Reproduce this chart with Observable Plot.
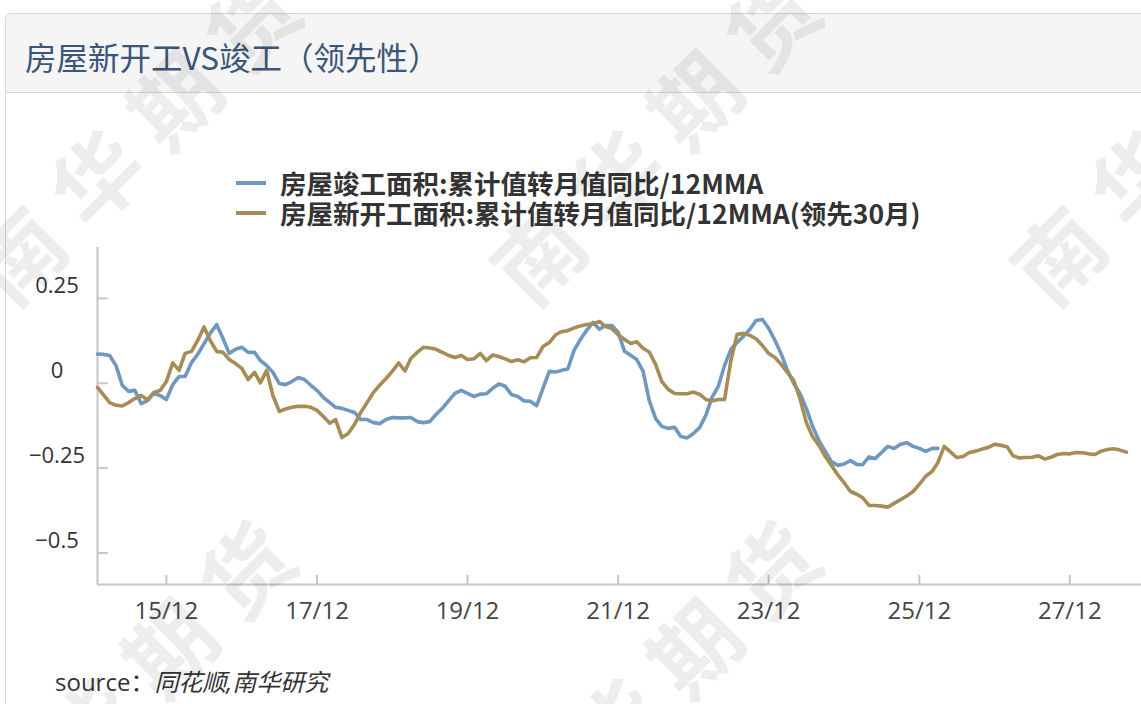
<!DOCTYPE html>
<html><head><meta charset="utf-8">
<script src="https://cdn.jsdelivr.net/npm/d3@7"></script>
<script src="https://cdn.jsdelivr.net/npm/@observablehq/plot@0.6"></script>
<style>
html,body{margin:0;padding:0;background:#fff;width:1141px;height:704px;overflow:hidden;font-family:"Open Sans","Noto Sans CJK SC",sans-serif;}
#card{position:absolute;left:5px;top:13px;width:1170px;height:740px;border:1px solid #d6d6d6;border-radius:6px;box-sizing:border-box;}
#titlebar{position:absolute;left:0;top:0;right:0;height:78px;background:#f5f5f5;border-bottom:1px solid #d9d9d9;border-radius:6px 6px 0 0;}
#title{position:absolute;left:19px;top:25px;font-family:"Noto Sans CJK SC",sans-serif;font-size:31.5px;line-height:34px;color:#3a5678;white-space:nowrap;}
.leg{position:absolute;left:236px;height:28px;white-space:nowrap;}
.sw{position:absolute;left:0;top:12px;width:30px;height:4px;}
.lt{position:absolute;left:44px;top:0;line-height:28px;font-size:26.5px;font-weight:700;color:#333;font-family:"Noto Sans CJK SC","Open Sans",sans-serif;}
#chart{position:absolute;left:0;top:230px;}
#source{position:absolute;left:55px;top:667px;font-size:24px;line-height:30px;color:#333;white-space:nowrap;font-family:"Open Sans","Noto Sans CJK SC",sans-serif;}
#source i{font-style:italic;}
#wm{position:absolute;left:0;top:0;pointer-events:none;}
</style>
</head><body>
<div id="card"><div id="titlebar"><div id="title">房屋新开工VS竣工（领先性）</div></div></div>
<div class="leg" id="leg1" style="top:169px"><div class="sw" id="sw1"></div><div class="lt" id="lt1"></div></div>
<div class="leg" id="leg2" style="top:199px"><div class="sw" id="sw2"></div><div class="lt" id="lt2"></div></div>
<div id="chart"></div>
<div id="source">source：<i>同花顺,南华研究</i></div>
<svg id="wm" width="1141" height="704"></svg>
<script>
// ---- data (monthly, starting Jan 2015) ----
const startYear = 2015, startMonth = 0;
const seriesNames = ["房屋竣工面积:累计值转月值同比/12MMA", "房屋新开工面积:累计值转月值同比/12MMA(领先30月)"];
const seriesColors = ["#6f98c1", "#a68d56"];
const completion = [
0.086,0.085,0.082,0.052,-0.006,-0.024,-0.021,-0.060,-0.051,-0.030,
-0.036,-0.048,-0.004,0.020,0.020,0.061,0.085,0.117,0.147,0.173,
0.132,0.088,0.100,0.106,0.091,0.091,0.067,0.052,0.032,-0.001,
-0.004,0.005,0.017,0.011,-0.006,-0.021,-0.042,-0.057,-0.071,-0.074,
-0.080,-0.086,-0.107,-0.107,-0.116,-0.119,-0.107,-0.101,-0.102,-0.102,
-0.101,-0.113,-0.116,-0.113,-0.092,-0.074,-0.051,-0.030,-0.021,-0.030,
-0.039,-0.032,-0.031,-0.015,-0.002,-0.009,-0.033,-0.039,-0.052,-0.053,
-0.066,-0.015,0.035,0.033,0.038,0.042,0.097,0.129,0.156,0.179,
0.159,0.170,0.170,0.150,0.094,0.082,0.070,0.035,-0.051,-0.104,
-0.127,-0.133,-0.130,-0.157,-0.161,-0.148,-0.130,-0.092,-0.042,-0.009,
0.052,0.100,0.120,0.138,0.159,0.185,0.188,0.162,0.126,0.085,
0.038,-0.001,-0.030,-0.074,-0.127,-0.169,-0.201,-0.231,-0.242,-0.238,
-0.228,-0.239,-0.240,-0.217,-0.222,-0.204,-0.186,-0.192,-0.180,-0.175,
-0.186,-0.192,-0.201,-0.192,-0.192];
const newStartsLead30 = [
-0.012,-0.036,-0.057,-0.065,-0.067,-0.057,-0.045,-0.036,-0.049,-0.027,
-0.021,0.005,0.060,0.038,0.088,0.094,0.126,0.166,0.126,0.094,
0.091,0.070,0.058,0.044,0.011,0.032,0.001,0.038,-0.036,-0.083,
-0.076,-0.071,-0.068,-0.068,-0.071,-0.080,-0.098,-0.118,-0.107,-0.160,
-0.148,-0.121,-0.086,-0.057,-0.027,-0.006,0.014,0.035,0.060,0.036,
0.073,0.091,0.106,0.104,0.100,0.091,0.082,0.076,0.082,0.070,
0.072,0.088,0.067,0.083,0.079,0.072,0.064,0.069,0.063,0.075,
0.076,0.108,0.120,0.143,0.152,0.155,0.163,0.169,0.173,0.175,
0.182,0.167,0.161,0.143,0.129,0.117,0.122,0.103,0.092,0.055,
0.005,-0.018,-0.030,-0.031,-0.031,-0.026,-0.033,-0.048,-0.052,-0.048,
-0.048,0.067,0.144,0.147,0.141,0.131,0.111,0.088,0.076,0.055,
0.032,0.008,-0.045,-0.116,-0.157,-0.183,-0.216,-0.242,-0.270,-0.293,
-0.319,-0.327,-0.337,-0.360,-0.360,-0.362,-0.365,-0.354,-0.343,-0.332,
-0.319,-0.298,-0.274,-0.260,-0.234,-0.186,-0.202,-0.219,-0.216,-0.204,
-0.200,-0.194,-0.189,-0.180,-0.183,-0.188,-0.214,-0.220,-0.219,-0.218,
-0.214,-0.223,-0.218,-0.210,-0.207,-0.208,-0.204,-0.205,-0.208,-0.210,
-0.200,-0.195,-0.193,-0.197,-0.203];
const yTicks = [-0.5, -0.25, 0, 0.25];
const xTickYears = [2015, 2017, 2019, 2021, 2023, 2025, 2027]; // December ticks, "yy/12"

// ---- build ----
const md = i => new Date(Date.UTC(startYear, startMonth + i, 1));
const blue = completion.map((v, i) => ({date: md(i), value: v}));
const tan = newStartsLead30.map((v, i) => ({date: md(i), value: v}));
const xTicks = xTickYears.map(y => new Date(Date.UTC(y, 11, 1)));
const x0 = md(0), x1 = new Date(Date.UTC(2028, 10, 13));
const yMin = -0.593, yMax = 0.4;
const axisColor = "#c6c6c6";

document.getElementById("sw1").style.background = seriesColors[0];
document.getElementById("sw2").style.background = seriesColors[1];
document.getElementById("lt1").textContent = seriesNames[0];
document.getElementById("lt2").textContent = seriesNames[1];

const chart = Plot.plot({
  width: 1141, height: 400,
  marginLeft: 97, marginRight: 0, marginTop: 17, marginBottom: 46,
  style: {fontFamily: "'Open Sans', sans-serif", fontSize: "22px", color: "#333", background: "transparent", overflow: "visible"},
  x: {type: "utc", domain: [x0, x1], label: null},
  y: {domain: [yMin, yMax], label: null},
  marks: [
    Plot.ruleX([x0], {stroke: axisColor, strokeWidth: 2}),
    Plot.ruleY([yMin], {stroke: axisColor, strokeWidth: 2}),
    Plot.ruleY(yTicks, {x1: x0, x2: new Date(Date.UTC(2015, 1, 22)), stroke: axisColor, strokeWidth: 2}),
    Plot.ruleX(xTicks, {y1: yMin, y2: yMin + 0.027, stroke: axisColor, strokeWidth: 2}),
    Plot.axisY(yTicks, {tickSize: 0, tickPadding: 40.5, textAnchor: "middle", dy: -12, fill: "#333", label: null,
      tickFormat: d => String(d).replace("-", "\u2212")}),
    Plot.axisX(xTicks, {tickSize: 0, tickPadding: 17, fill: "#444", fontSize: 24, label: null, tickFormat: d3.utcFormat("%y/%m")}),
    Plot.line(blue, {x: "date", y: "value", stroke: seriesColors[0], strokeWidth: 3.6}),
    Plot.line(tan, {x: "date", y: "value", stroke: seriesColors[1], strokeWidth: 3.6})
  ]
});
document.getElementById("chart").appendChild(chart);

// ---- watermark ----
const wm = d3.select("#wm");
const wmCenters = [[140,128],[660,128],[1180,128],[135,676],[660,676]];
wm.selectAll("text").data(wmCenters).join("text")
  .attr("transform", d => `translate(${d[0]},${d[1]}) rotate(-45)`)
  .attr("text-anchor", "middle").attr("dominant-baseline", "central")
  .attr("font-family", "'Noto Sans CJK SC', sans-serif").attr("font-weight", 700)
  .attr("font-size", 88).attr("letter-spacing", 22)
  .attr("fill", "rgba(0,0,0,0.07)")
  .text("南华期货");
</script>
</body></html>
